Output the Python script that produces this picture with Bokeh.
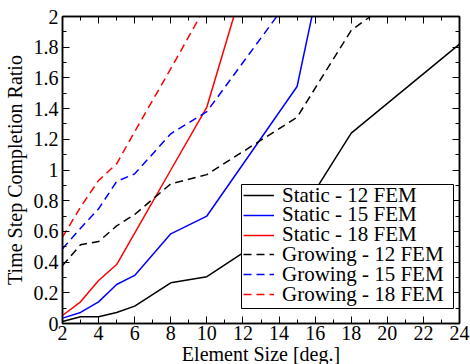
from bokeh.plotting import figure
from bokeh.models import Legend, LegendItem, LinearAxis, SingleIntervalTicker, Range1d, BoxAnnotation
from bokeh.embed import file_html
from bokeh.resources import INLINE

# ---- data ----
static12_x = [2, 3, 4, 5, 6, 8, 10, 12, 15, 18, 24]
static12_y = [0.013, 0.044, 0.044, 0.072, 0.113, 0.265, 0.305, 0.46, 0.68, 1.24, 1.82]

static15_x = [2, 3, 4, 5, 6, 8, 10, 15, 16]
static15_y = [0.035, 0.072, 0.141, 0.254, 0.313, 0.584, 0.70, 1.544, 2.10]

static18_x = [2, 3, 4, 5, 6, 8, 10, 12]
static18_y = [0.052, 0.141, 0.28, 0.384, 0.588, 1.0, 1.41, 2.2]

growing12_x = [2, 3, 4, 5, 6, 8, 10, 15, 18, 20]
growing12_y = [0.378, 0.513, 0.534, 0.636, 0.71, 0.91, 0.97, 1.344, 1.91, 2.08]

growing15_x = [2, 3, 4, 5, 6, 8, 10, 12, 15]
growing15_y = [0.487, 0.621, 0.747, 0.925, 0.975, 1.236, 1.38, 1.70, 2.18]

growing18_x = [2, 3, 4, 5, 6, 8, 10]
growing18_y = [0.562, 0.758, 0.932, 1.04, 1.25, 1.66, 2.08]

series_labels = ["Static - 12 FEM", "Static - 15 FEM", "Static - 18 FEM",
                 "Growing - 12 FEM", "Growing - 15 FEM", "Growing - 18 FEM"]

y_ticks = [0, 0.2, 0.4, 0.6, 0.8, 1.0, 1.2, 1.4, 1.6, 1.8, 2.0]
y_tick_labels = ["0", "0.2", "0.4", "0.6", "0.8", "1", "1.2", "1.4", "1.6", "1.8", "2"]

x_label = "Element Size [deg.]"
y_label = "Time Step Completion Ratio"

FONT = "Liberation Serif"

p = figure(frame_width=397, frame_height=307,
           min_border_left=62, min_border_top=16, min_border_right=11, min_border_bottom=41,
           x_range=Range1d(2, 24), y_range=Range1d(0, 2),
           output_backend="svg", toolbar_location=None)

p.xgrid.visible = False
p.ygrid.visible = False
p.outline_line_color = "black"
p.outline_line_width = 1.5
p.background_fill_color = "white"
p.border_fill_color = "white"

xt = SingleIntervalTicker(interval=2, num_minor_ticks=2)
yt = SingleIntervalTicker(interval=0.2, num_minor_ticks=2)


def style_axis(ax, ticker, labels=True):
    ax.ticker = ticker
    ax.major_tick_in = 7
    ax.major_tick_out = 0
    ax.minor_tick_in = 4
    ax.minor_tick_out = 0
    ax.major_tick_line_color = "black"
    ax.minor_tick_line_color = "black"
    ax.axis_line_color = "black"
    ax.axis_line_width = 1.5
    ax.major_tick_line_width = 1
    ax.minor_tick_line_width = 1
    ax.major_label_text_font = FONT
    ax.major_label_text_color = "black"
    if labels:
        ax.major_label_text_font_size = "20px"
    else:
        ax.major_label_text_font_size = "0px"
        ax.major_label_standoff = 0


style_axis(p.xaxis[0], xt)
style_axis(p.yaxis[0], yt)
p.yaxis[0].major_label_overrides = {t: l for t, l in zip(y_ticks, y_tick_labels)}
p.xaxis[0].major_label_standoff = 2
p.yaxis[0].major_label_standoff = 4
p.xaxis[0].axis_label = x_label
p.yaxis[0].axis_label = y_label
for ax in (p.xaxis[0], p.yaxis[0]):
    ax.axis_label_text_font = FONT
    ax.axis_label_text_font_size = "20px"
    ax.axis_label_text_font_style = "normal"
    ax.axis_label_text_color = "black"
p.xaxis[0].axis_label_standoff = 0
p.yaxis[0].axis_label_standoff = 5

top_ax = LinearAxis()
style_axis(top_ax, SingleIntervalTicker(interval=2, num_minor_ticks=2), labels=False)
p.add_layout(top_ax, "above")
right_ax = LinearAxis()
style_axis(right_ax, SingleIntervalTicker(interval=0.2, num_minor_ticks=2), labels=False)
p.add_layout(right_ax, "right")

W = 1.5
DASH = "8 5"
r1 = p.line(static12_x, static12_y, line_color="black", line_width=W)
r2 = p.line(static15_x, static15_y, line_color="#0000ff", line_width=W)
r3 = p.line(static18_x, static18_y, line_color="#ff0000", line_width=W)
r4 = p.line(growing12_x, growing12_y, line_color="black", line_width=W, line_dash=DASH)
r5 = p.line(growing15_x, growing15_y, line_color="#0000ff", line_width=W, line_dash=DASH)
r6 = p.line(growing18_x, growing18_y, line_color="#ff0000", line_width=W, line_dash=DASH)

# legend frame (screen units relative to the plot frame's bottom-left)
box = BoxAnnotation(left=179, right=391, bottom=15, top=139,
                    left_units="screen", right_units="screen",
                    bottom_units="screen", top_units="screen",
                    fill_color="white", fill_alpha=1.0,
                    line_color="black", line_width=1, line_alpha=1.0)
p.add_layout(box, "center")

# one legend per row so that rows can sit 20px apart
ROW_H = 26
first_row_bottom = 115
row_step = 19.8
for i, (lab, r) in enumerate(zip(series_labels, [r1, r2, r3, r4, r5, r6])):
    lg = Legend(items=[LegendItem(label=lab, renderers=[r])],
                location=(181, first_row_bottom - i * row_step))
    lg.label_text_font = FONT
    lg.label_text_font_size = "21px"
    lg.label_text_color = "black"
    lg.label_height = ROW_H
    lg.glyph_height = ROW_H
    lg.glyph_width = 31
    lg.label_standoff = 8
    lg.spacing = 0
    lg.padding = 0
    lg.margin = 0
    lg.border_line_color = None
    lg.background_fill_alpha = 0
    lg.click_policy = "none"
    p.add_layout(lg, "center")

open("out.html", "w").write(file_html(p, INLINE))
